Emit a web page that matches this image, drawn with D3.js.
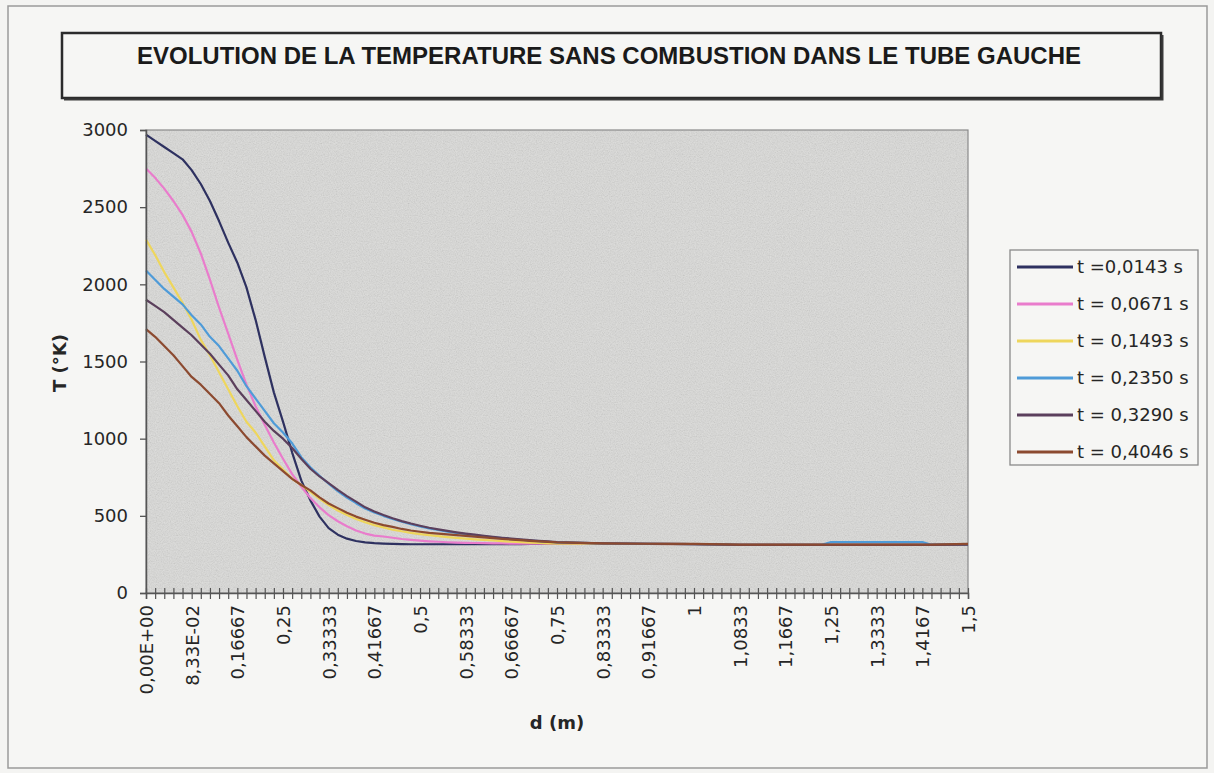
<!DOCTYPE html>
<html>
<head>
<meta charset="utf-8">
<script src="https://cdn.jsdelivr.net/npm/d3@7"></script>
<style>
  html, body { margin: 0; padding: 0; background: #f4f4f2; }
  svg { display: block; }
</style>
</head>
<body>
<svg id="chart" width="1214" height="773"></svg>
<script>
// Distance along the tube (m)
const distances = [
  0, 0.0167, 0.0333, 0.05, 0.0667, 0.0833, 0.1, 0.1167, 0.1333, 0.15,
  0.1667, 0.1833, 0.2, 0.2167, 0.2333, 0.25, 0.2667, 0.2833, 0.3, 0.3167,
  0.3333, 0.35, 0.3667, 0.3833, 0.4, 0.4167, 0.4333, 0.45, 0.4667, 0.4833,
  0.5, 0.5167, 0.5333, 0.55, 0.5667, 0.5833, 0.6, 0.6167, 0.6333, 0.65,
  0.6667, 0.6833, 0.7, 0.7167, 0.7333, 0.75, 0.8333, 0.9167, 1, 1.0833,
  1.1667, 1.2333, 1.25, 1.3333, 1.4167, 1.4333, 1.5
];

// Temperature profiles (K) at each instant
const temp_t0143 = [
  2970, 2930, 2890, 2850, 2810, 2740, 2650, 2540, 2410, 2270,
  2140, 1980, 1770, 1530, 1300, 1110, 910, 730, 600, 495,
  420, 378, 352, 337, 328, 323, 320, 318, 317, 316,
  316, 316, 316, 316, 316, 316, 316, 316, 317, 317,
  317, 317, 318, 318, 318, 318, 318, 318, 317, 312,
  312, 312, 312, 312, 312, 312, 313
];
const temp_t0671 = [
  2750, 2690, 2620, 2540, 2450, 2340, 2200, 2030, 1850, 1680,
  1510, 1350, 1210, 1090, 975, 870, 770, 690, 615, 555,
  505, 465, 432, 405, 385, 372, 366, 358, 350, 344,
  339, 335, 332, 329, 327, 325, 324, 323, 322, 321,
  320, 320, 319, 319, 319, 319, 319, 318, 317, 312,
  312, 312, 312, 312, 312, 312, 313
];
const temp_t1493 = [
  2290, 2190, 2080, 1980, 1880, 1770, 1640, 1540, 1430, 1320,
  1210, 1110, 1040, 950, 860, 800, 740, 700, 655, 610,
  570, 535, 505, 480, 458, 440, 425, 410, 400, 390,
  382, 375, 368, 362, 357, 352, 348, 344, 340, 336,
  333, 330, 327, 325, 322, 320, 319, 318, 317, 312,
  312, 312, 312, 312, 312, 312, 313
];
const temp_t2350 = [
  2090, 2030, 1970, 1920, 1870, 1800, 1740, 1660, 1600, 1520,
  1440, 1340, 1260, 1180, 1100, 1040, 970, 880, 815, 760,
  708, 660, 618, 582, 548, 522, 500, 480, 462, 446,
  432, 419, 408, 398, 389, 381, 374, 367, 361, 355,
  350, 345, 340, 336, 332, 328, 321, 319, 317, 312,
  312, 312, 330, 330, 330, 313, 313
];
const temp_t3290 = [
  1900, 1860, 1820, 1770, 1720, 1670, 1610, 1550, 1480, 1410,
  1320, 1250, 1180, 1110, 1050, 1000, 940, 870, 805, 755,
  712, 668, 628, 592, 555, 528, 505, 484, 466, 450,
  436, 423, 412, 402, 393, 385, 378, 371, 364, 358,
  353, 348, 343, 338, 334, 330, 322, 319, 317, 312,
  312, 312, 312, 312, 312, 312, 314
];
const temp_t4046 = [
  1710, 1660, 1600, 1540, 1470, 1400, 1350, 1290, 1230, 1150,
  1080, 1010, 950, 890, 840, 790, 740, 700, 665, 620,
  580, 550, 520, 495, 475, 455, 440, 428, 415, 405,
  397, 390, 385, 380, 375, 370, 365, 360, 355, 350,
  346, 342, 338, 334, 331, 328, 321, 319, 318, 313,
  313, 313, 313, 313, 313, 314, 318
];

const seriesLabels = [
  "t =0,0143 s", "t = 0,0671 s", "t = 0,1493 s",
  "t = 0,2350 s", "t = 0,3290 s", "t = 0,4046 s"
];
const seriesValues = [temp_t0143, temp_t0671, temp_t1493, temp_t2350, temp_t3290, temp_t4046];
const seriesColors = ["#2e3160", "#e97ccc", "#eed65c", "#4f9bd8", "#5b3f5c", "#8c4a30"];

const yTickValues = [0, 500, 1000, 1500, 2000, 2500, 3000];
const xTickLabels = [
  "0,00E+00", "8,33E-02", "0,16667", "0,25", "0,33333", "0,41667", "0,5",
  "0,58333", "0,66667", "0,75", "0,83333", "0,91667", "1", "1,0833",
  "1,1667", "1,25", "1,3333", "1,4167", "1,5"
];
const titleText = "EVOLUTION DE LA TEMPERATURE SANS COMBUSTION DANS LE TUBE GAUCHE";

// ---- layout ----
const plot = { left: 146, right: 968, top: 130, bottom: 593 };
const textColor = "#262626";
const tickFont = "'DejaVu Sans', sans-serif";

const svg = d3.select("#chart");

const defs = svg.append("defs");
const grain = defs.append("filter").attr("id", "grain")
  .attr("x", 0).attr("y", 0).attr("width", "100%").attr("height", "100%");
grain.append("feTurbulence").attr("type", "fractalNoise")
  .attr("baseFrequency", 0.85).attr("numOctaves", 2).attr("seed", 7);
grain.append("feColorMatrix").attr("type", "matrix")
  .attr("values", "1 0 0 0 0  1 0 0 0 0  1 0 0 0 0  0 0 0 0 0.16");
grain.append("feComposite").attr("in2", "SourceGraphic").attr("operator", "in");

// outer chart frame
svg.append("rect")
  .attr("x", 8).attr("y", 6).attr("width", 1199).attr("height", 762)
  .attr("fill", "#f6f6f4").attr("stroke", "#9a9a9a").attr("stroke-width", 1.5);

// title box
svg.append("rect")
  .attr("x", 62).attr("y", 33).attr("width", 1099).attr("height", 65)
  .attr("fill", "none").attr("stroke", "#2b2b2b").attr("stroke-width", 2.5);
svg.append("path")
  .attr("d", "M64,99.5 H1162.5 V35")
  .attr("fill", "none").attr("stroke", "#3a3a3a").attr("stroke-width", 2);
svg.append("text")
  .attr("x", 609).attr("y", 64)
  .attr("text-anchor", "middle")
  .attr("font-family", "'Liberation Sans Narrow', 'Liberation Sans', Arial, sans-serif")
  .attr("font-weight", "bold")
  .attr("font-size", 23)
  .attr("textLength", 944)
  .attr("lengthAdjust", "spacingAndGlyphs")
  .attr("fill", "#1a1a1a")
  .text(titleText);

// scales
const x = d3.scaleLinear().domain([0, 1.5]).range([plot.left, plot.right]);
const y = d3.scaleLinear().domain([0, 3000]).range([plot.bottom, plot.top]);

// plot area
svg.append("rect")
  .attr("x", plot.left).attr("y", plot.top)
  .attr("width", plot.right - plot.left).attr("height", plot.bottom - plot.top)
  .attr("fill", "#dadad8");
svg.append("rect")
  .attr("x", plot.left).attr("y", plot.top)
  .attr("width", plot.right - plot.left).attr("height", plot.bottom - plot.top)
  .attr("fill", "#ffffff").attr("filter", "url(#grain)");
svg.append("rect")
  .attr("x", plot.left).attr("y", plot.top)
  .attr("width", plot.right - plot.left).attr("height", plot.bottom - plot.top)
  .attr("fill", "none").attr("stroke", "#8a8a8a").attr("stroke-width", 1.2);

// series lines
const line = d3.line()
  .x((d, i) => x(distances[i]))
  .y(d => y(d));
seriesValues.forEach((vals, k) => {
  svg.append("path")
    .datum(vals)
    .attr("d", line)
    .attr("fill", "none")
    .attr("stroke", seriesColors[k])
    .attr("stroke-width", 2.2)
    .attr("stroke-linejoin", "round");
});

// y axis
const yAxis = svg.append("g")
  .attr("transform", `translate(${plot.left},0)`)
  .call(d3.axisLeft(y).tickValues(yTickValues).tickSize(6).tickPadding(12).tickFormat(d3.format("d")));
yAxis.select(".domain").attr("stroke", "#555").attr("stroke-width", 1.5);
yAxis.selectAll(".tick line").attr("stroke", "#555").attr("stroke-width", 1.3);
yAxis.selectAll(".tick text")
  .attr("font-family", tickFont).attr("font-size", 18).attr("fill", textColor);

// x axis: one tick per 1/60 m, labelled every fifth tick
const xTickValues = d3.range(91).map(i => i / 60);
const xAxis = svg.append("g")
  .attr("transform", `translate(0,${plot.bottom})`)
  .call(d3.axisBottom(x).tickValues(xTickValues).tickSize(6)
    .tickFormat((d, i) => (i % 5 === 0 ? xTickLabels[i / 5] : "")));
xAxis.select(".domain").attr("stroke", "#555").attr("stroke-width", 1.5);
xAxis.selectAll(".tick line")
  .attr("y1", -5).attr("y2", 6)
  .attr("stroke", "#555").attr("stroke-width", 1.2);
xAxis.selectAll(".tick text")
  .attr("font-family", tickFont).attr("font-size", 18).attr("fill", textColor)
  .attr("text-anchor", "end")
  .attr("transform", "rotate(-90)")
  .attr("x", -12).attr("y", 0).attr("dy", "0.36em");

// axis titles
svg.append("text")
  .attr("transform", "translate(66,363) rotate(-90)")
  .attr("text-anchor", "middle")
  .attr("font-family", tickFont).attr("font-weight", "bold").attr("font-size", 18)
  .attr("fill", textColor)
  .text("T (°K)");
svg.append("text")
  .attr("x", 557).attr("y", 729)
  .attr("text-anchor", "middle")
  .attr("font-family", tickFont).attr("font-weight", "bold").attr("font-size", 18)
  .attr("fill", textColor)
  .text("d (m)");

// legend
const legend = svg.append("g");
legend.append("rect")
  .attr("x", 1010).attr("y", 250).attr("width", 188).attr("height", 215)
  .attr("fill", "#f6f6f4").attr("stroke", "#8a8a8a").attr("stroke-width", 1.3);
seriesLabels.forEach((lab, k) => {
  const cy = 267 + k * 37;
  legend.append("line")
    .attr("x1", 1017).attr("x2", 1073).attr("y1", cy).attr("y2", cy)
    .attr("stroke", seriesColors[k]).attr("stroke-width", 3);
  legend.append("text")
    .attr("x", 1077).attr("y", cy).attr("dy", "0.36em")
    .attr("font-family", tickFont).attr("font-size", 18).attr("fill", textColor)
    .text(lab);
});
</script>
</body>
</html>
